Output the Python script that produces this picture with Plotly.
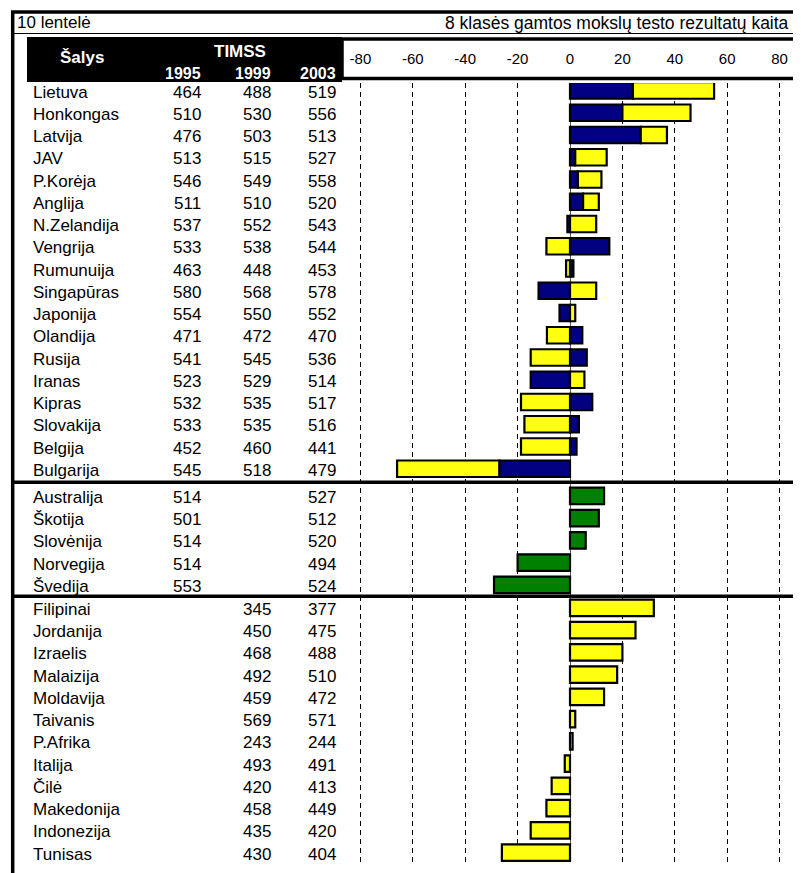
import plotly.graph_objects as go

# ---------------- data ----------------
countries_g1 = ["Lietuva", "Honkongas", "Latvija", "JAV", "P.Korėja", "Anglija",
                "N.Zelandija", "Vengrija", "Rumunuija", "Singapūras", "Japonija",
                "Olandija", "Rusija", "Iranas", "Kipras", "Slovakija", "Belgija",
                "Bulgarija"]
s1995_g1 = [464, 510, 476, 513, 546, 511, 537, 533, 463, 580, 554, 471, 541, 523, 532, 533, 452, 545]
s1999_g1 = [488, 530, 503, 515, 549, 510, 552, 538, 448, 568, 550, 472, 545, 529, 535, 535, 460, 518]
s2003_g1 = [519, 556, 513, 527, 558, 520, 543, 544, 453, 578, 552, 470, 536, 514, 517, 516, 441, 479]
# bar segments
chg_95_99 = [24, 20, 27, 2, 3, 5, -1, 15, 1.3, -12, -4, 4.7, 6.4, -15, 8.5, 3.4, 2.5, -27]
chg_99_03 = [31, 26, 10, 12, 9, 6, 10, -9, -1.5, 10, 2, -8.8, -15, 5.5, -18.7, -17.4, -18.7, -39]

countries_g2 = ["Australija", "Škotija", "Slovėnija", "Norvegija", "Švedija"]
s1995_g2 = [514, 501, 514, 514, 553]
s2003_g2 = [527, 512, 520, 494, 524]
chg_95_03_g2 = [13, 11, 6, -20, -29]

countries_g3 = ["Filipinai", "Jordanija", "Izraelis", "Malaizija", "Moldavija", "Taivanis",
                "P.Afrika", "Italija", "Čilė", "Makedonija", "Indonezija", "Tunisas"]
s1999_g3 = [345, 450, 468, 492, 459, 569, 243, 493, 420, 458, 435, 430]
s2003_g3 = [377, 475, 488, 510, 472, 571, 244, 491, 413, 449, 420, 404]
chg_99_03_g3 = [32, 25, 20, 18, 13, 2, 1, -2, -7, -9, -15, -26]

x_ticks = [-80, -60, -40, -20, 0, 20, 40, 60, 80]

title_left = "10 lentelė"
title_right = "8 klasės gamtos mokslų testo rezultatų kaita"

# ---------------- layout helpers ----------------
OFF = 8                      # default page margin of the html body
W, H = 801 - OFF, 873 - OFF
FONT = "Liberation Sans, Arial, sans-serif"
NAVY, YELLOW, GREEN = "#000080", "#FFFF10", "#008000"
GAP2, GAP3 = 0.22, 0.25


def px(x):
    return (x - OFF) / W


def py(y):
    return 1 - (y - OFF) / H


n1, n2, n3 = len(countries_g1), len(countries_g2), len(countries_g3)
y1 = [i for i in range(n1)]
y2 = [n1 + i + GAP2 for i in range(n2)]
y3 = [n1 + n2 + i + GAP3 for i in range(n3)]

bar_w = 0.74
line = dict(color="black", width=2.2)

fig = go.Figure()
fig.add_trace(go.Bar(x=chg_95_99, y=y1, orientation="h", width=bar_w,
                     marker=dict(color=NAVY, line=line), name="1995-1999"))
fig.add_trace(go.Bar(x=chg_99_03, y=y1, orientation="h", width=bar_w,
                     marker=dict(color=YELLOW, line=line), name="1999-2003"))
fig.add_trace(go.Bar(x=chg_95_03_g2, y=y2, orientation="h", width=bar_w,
                     marker=dict(color=GREEN, line=line), name="1995-2003"))
fig.add_trace(go.Bar(x=chg_99_03_g3, y=y3, orientation="h", width=bar_w,
                     marker=dict(color=YELLOW, line=line), name="1999-2003 "))

# ---------------- table text ----------------
ann = []
tfont = dict(family=FONT, size=17, color="black")


def row_texts(names, ys, c95, c99, c03):
    for k, (nm, yy) in enumerate(zip(names, ys)):
        ann.append(dict(x=px(31), y=yy, xref="paper", yref="y", text=nm, showarrow=False,
                        xanchor="left", yanchor="middle", font=tfont, yshift=-1.5))
        for col, xr in ((c95, 203), (c99, 273), (c03, 338)):
            if col is not None:
                ann.append(dict(x=px(xr), y=yy, xref="paper", yref="y", text=str(col[k]),
                                showarrow=False, xanchor="right", yanchor="middle",
                                font=tfont, yshift=-1.5))


row_texts(countries_g1, y1, s1995_g1, s1999_g1, s2003_g1)
row_texts(countries_g2, y2, s1995_g2, None, s2003_g2)
row_texts(countries_g3, y3, None, s1999_g3, s2003_g3)

# header texts
hfont = dict(family=FONT, size=16, color="white")
ann.append(dict(x=px(82), y=py(58), xref="paper", yref="paper", text="<b>Šalys</b>",
                showarrow=False, xanchor="center", yanchor="middle",
                font=dict(family=FONT, size=17, color="white")))
ann.append(dict(x=px(240), y=py(51), xref="paper", yref="paper", text="<b>TIMSS</b>",
                showarrow=False, xanchor="center", yanchor="middle",
                font=dict(family=FONT, size=17, color="white")))
for lbl, xr in (("1995", 203), ("1999", 273), ("2003", 338)):
    ann.append(dict(x=px(xr), y=py(73), xref="paper", yref="paper", text="<b>%s</b>" % lbl,
                    showarrow=False, xanchor="right", yanchor="middle", font=hfont))

# title row
ann.append(dict(x=px(15), y=py(22.5), xref="paper", yref="paper", text=title_left,
                showarrow=False, xanchor="left", yanchor="middle",
                font=dict(family=FONT, size=17, color="black")))
ann.append(dict(x=px(791), y=py(23), xref="paper", yref="paper", text=title_right,
                showarrow=False, xanchor="right", yanchor="middle",
                font=dict(family=FONT, size=17.5, color="black")))

# ---------------- frame shapes ----------------
shapes = []
# header black box
shapes.append(dict(type="rect", xref="paper", yref="paper", x0=px(27), x1=px(342),
                   y0=py(37), y1=py(82), fillcolor="black", line=dict(width=0), layer="above"))
# tick label box
shapes.append(dict(type="rect", xref="paper", yref="paper", x0=px(342), x1=px(805),
                   y0=py(39), y1=py(78.5), fillcolor="rgba(0,0,0,0)",
                   line=dict(color="black", width=3.5), layer="above"))
# top thick line
shapes.append(dict(type="line", xref="paper", yref="paper", x0=px(11), x1=1,
                   y0=py(12), y1=py(12), line=dict(color="black", width=3.5)))
# thin line under title row
shapes.append(dict(type="line", xref="paper", yref="paper", x0=px(12), x1=1,
                   y0=py(33.5), y1=py(33.5), line=dict(color="black", width=1)))
# left border
shapes.append(dict(type="line", xref="paper", yref="paper", x0=px(12.7), x1=px(12.7),
                   y0=py(11), y1=0, line=dict(color="black", width=3.5)))
# group separators
for a, b in ((y1[-1], y2[0]), (y2[-1], y3[0])):
    m = (a + b) / 2
    shapes.append(dict(type="line", xref="paper", yref="y", x0=px(12), x1=1,
                       y0=m, y1=m, line=dict(color="black", width=3.5), layer="above"))

# ---------------- axes ----------------
PX_PER_UNIT = 2.62
X0_PX = 570
UNIT_Y = 22.25
Y0_PX = 90.5
top_px, bot_px = 83, 862

fig.update_layout(
    width=W, height=H, autosize=False,
    margin=dict(l=0, r=0, t=0, b=0),
    paper_bgcolor="white", plot_bgcolor="white",
    barmode="relative", showlegend=False,
    annotations=ann, shapes=shapes,
    font=dict(family=FONT, color="black"),
    xaxis=dict(domain=[px(342), 1],
               range=[(342 - X0_PX) / PX_PER_UNIT, (801 - X0_PX) / PX_PER_UNIT],
               side="top", tickvals=x_ticks, ticktext=[str(v) for v in x_ticks],
               ticks="", showline=False,
               showgrid=True, gridcolor="black", gridwidth=1, griddash="5px,4px",
               zeroline=True, zerolinecolor="#555555", zerolinewidth=1,
               tickfont=dict(family=FONT, size=15, color="black"),
               ticklabelstandoff=15, fixedrange=True),
    yaxis=dict(domain=[py(bot_px), py(top_px)],
               range=[(bot_px - Y0_PX) / UNIT_Y, (top_px - Y0_PX) / UNIT_Y],
               visible=False, showgrid=False, zeroline=False, fixedrange=True),
)

fig.write_html("out.html")
